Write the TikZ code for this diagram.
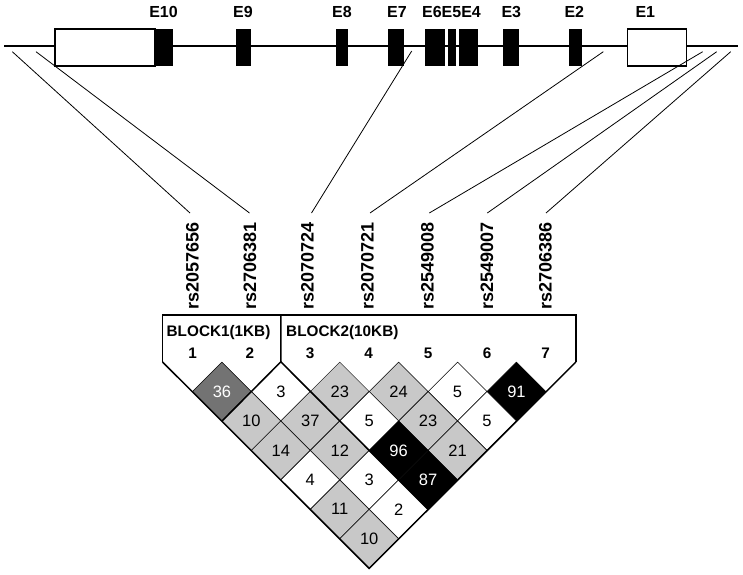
\documentclass[tikz,border=0pt]{standalone}
\usepackage{fontspec}
\setmainfont{Liberation Sans}
\usetikzlibrary{shapes.geometric}
\definecolor{lg}{RGB}{200,200,200}
\definecolor{dg}{RGB}{115,115,115}
\tikzset{
  geneline/.style={line width=1.8pt},
  utr/.style={draw=black, fill=white, line width=1.4pt},
  cds/.style={fill=black},
  conn/.style={line width=0.8pt},
  elabel/.style={font=\fontsize{16}{16}\selectfont\bfseries, inner sep=0pt},
  rslabel/.style={font=\fontsize{18}{18}\selectfont\bfseries, inner sep=0pt, rotate=90, anchor=west},
  hdr/.style={font=\fontsize{15.3}{15.3}\selectfont\bfseries, inner sep=0pt},
  cell/.style={diamond, aspect=1, draw=black, line width=0.5pt, inner sep=0pt,
    minimum width=58.9pt, minimum height=58.9pt, font=\fontsize{16.5}{16.5}\selectfont},
  blk/.style={line width=1.5pt, line join=miter},
}
\begin{document}
\begin{tikzpicture}[x=1pt,y=-1pt]
\useasboundingbox (0,0) rectangle (743,574);
% gene
\coordinate (gl) at (4,46);
\coordinate (gr) at (738,46);
\draw[geneline] (gl) -- (gr);
\draw[utr] (55,29) rectangle (155,66);
\fill[cds] (155,29) rectangle (172.7,66);
\fill[cds] (236,29) rectangle (250.7,66);
\fill[cds] (336,29) rectangle (348.3,66);
\fill[cds] (388.3,29) rectangle (404,66);
\fill[cds] (425,29) rectangle (445,66);
\fill[cds] (448.3,29) rectangle (456,66);
\fill[cds] (459.3,29) rectangle (478.3,66);
\fill[cds] (503.3,29) rectangle (519.3,66);
\fill[cds] (569.3,29) rectangle (581.7,66);
\draw[utr] (627.7,29) rectangle (686.7,66);
% exon labels
\node[elabel] (e10) at (163.5,12) {E10};
\node[elabel] (e9) at (243,12) {E9};
\node[elabel] (e8) at (342,12) {E8};
\node[elabel] (e7) at (397,12) {E7};
\node[elabel] (e654) at (451.5,12) {E6E5E4};
\node[elabel] (e3) at (511.3,12) {E3};
\node[elabel] (e2) at (574.3,12) {E2};
\node[elabel] (e1) at (645.3,12) {E1};
% SNP labels
\node[rslabel] (s1) at (192.5,309.5) {rs2057656};
\node[rslabel] (s2) at (250,309.5) {rs2706381};
\node[rslabel] (s3) at (307.5,309.5) {rs2070724};
\node[rslabel] (s4) at (367.5,309.5) {rs2070721};
\node[rslabel] (s5) at (427.5,309.5) {rs2549008};
\node[rslabel] (s6) at (487,309.5) {rs2549007};
\node[rslabel] (s7) at (545.5,309.5) {rs2706386};
% connectors
\coordinate (p1) at (12.3,51.7);  \coordinate (q1) at (190,213);
\coordinate (p2) at (36,51.7);    \coordinate (q2) at (249.5,213);
\coordinate (p3) at (411.7,51);   \coordinate (q3) at (311.5,213);
\coordinate (p4) at (603.3,51.7); \coordinate (q4) at (370,213);
\coordinate (p5) at (702.7,51.7); \coordinate (q5) at (429.3,213);
\coordinate (p6) at (716.7,51.7); \coordinate (q6) at (487.3,213);
\coordinate (p7) at (730.7,51.7); \coordinate (q7) at (546,213);
\foreach \k in {1,...,7} { \draw[conn] (p\k) -- (q\k); }
% header
\node[hdr, anchor=west] (b1) at (166.5,333) {BLOCK1(1KB)};
\node[hdr, anchor=west] (b2) at (286,333) {BLOCK2(10KB)};
\foreach \k/\x in {1/192.7,2/250,3/310,4/368.5,5/428,6/487,7/545.7} {
  \node[hdr] (n\k) at (\x,353) {\k};
}
% LD cells
\foreach \i/\j/\v/\f/\t in {
  1/2/36/dg/white, 2/3/3/white/black, 3/4/23/lg/black, 4/5/24/lg/black, 5/6/5/white/black, 6/7/91/black/white,
  1/3/10/lg/black, 2/4/37/lg/black, 3/5/5/white/black, 4/6/23/lg/black, 5/7/5/white/black,
  1/4/14/lg/black, 2/5/12/lg/black, 3/6/96/black/white, 4/7/21/lg/black,
  1/5/4/white/black, 2/6/3/white/black, 3/7/87/black/white,
  1/6/11/lg/black, 2/7/2/white/black,
  1/7/10/lg/black} {
  \node[cell, fill=\f, text=\t] (c\i\j) at ({192.5+58.9*((\i+\j)/2-1)},{362+29.45*(\j-\i)}) {\v};
}
% block outlines
\coordinate (hl) at (162.55,315);
\coordinate (hm) at (280.85,315);
\coordinate (hr) at (575.85,315);
\coordinate (bl) at (162.55,362);
\coordinate (br) at (575.85,362);
\draw[blk] (bl) -- (hl) -- (hr) -- (br);
\draw[blk] (hm) -- (c23.north);
\draw[blk] (bl) -- (c17.south) -- (br);
\draw[blk] (c12.south) -- (c23.north) -- (c37.south);
\end{tikzpicture}
\end{document}
